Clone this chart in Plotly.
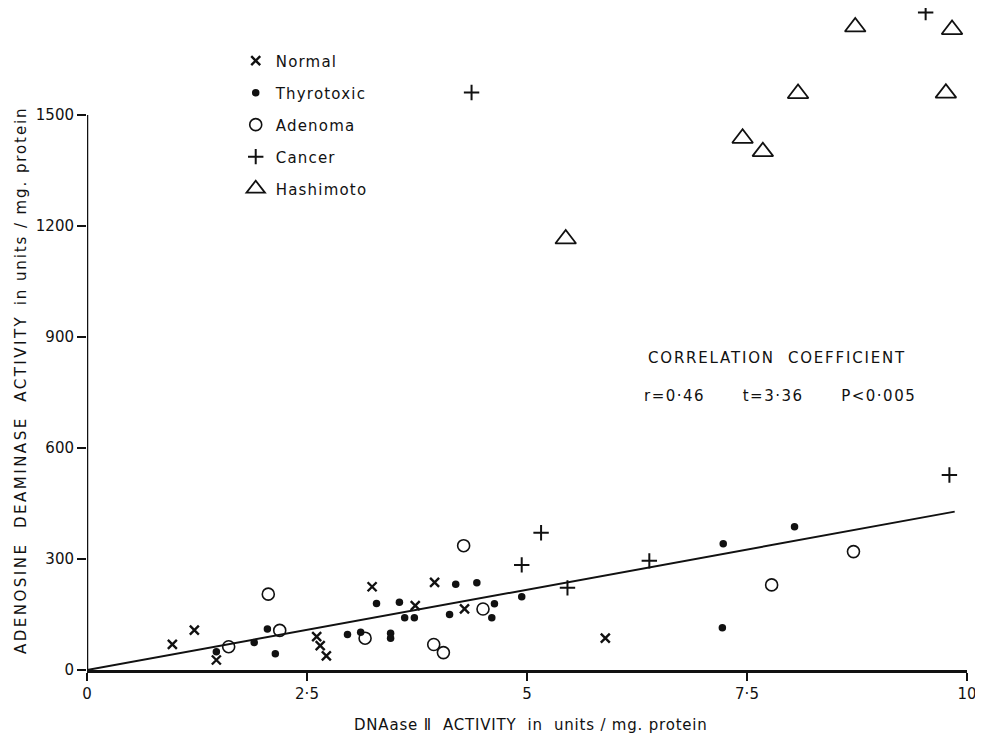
import plotly.graph_objects as go

# ---------------- data ----------------
normal_x = [0.97, 1.22, 1.47, 2.61, 2.65, 2.72, 3.24, 3.73, 3.95, 4.29, 5.89]
normal_y = [69, 108, 27, 90, 66, 38, 225, 174, 237, 165, 86]

thyro_x = [1.47, 1.90, 2.05, 2.14, 2.96, 3.11, 3.29, 3.45, 3.45, 3.55, 3.61,
           3.72, 4.12, 4.19, 4.43, 4.60, 4.63, 4.94, 7.22, 7.23, 8.04]
thyro_y = [49, 74, 111, 44, 96, 102, 180, 99, 86, 183, 141,
           141, 150, 232, 236, 141, 179, 198, 114, 341, 387]

adenoma_x = [1.61, 2.06, 2.19, 3.16, 3.94, 4.05, 4.28, 4.50, 7.78, 8.71]
adenoma_y = [63, 205, 107, 86, 69, 47, 336, 165, 230, 320]

cancer_x = [4.37, 4.94, 5.16, 5.46, 6.39, 9.53, 9.80]
cancer_y = [1561, 284, 371, 222, 295, 1777, 527]

hashi_x = [5.44, 7.45, 7.68, 8.08, 8.73, 9.76, 9.83]
hashi_y = [1165, 1437, 1401, 1558, 1738, 1559, 1731]

fit_x = [0, 9.86]
fit_y = [0, 428]

x_tickvals = [0, 2.5, 5, 7.5, 10]
x_ticktext = ["0", "2·5", "5", "7·5", "10"]
y_tickvals = [0, 300, 600, 900, 1200, 1500]
y_ticktext = ["0", "300", "600", "900", "1200", "1500"]

FONT = "DejaVu Sans"
BLACK = "#111111"

# plot area (figure coords): left 79, top 0, width 880, height 662
PW, PH = 880, 662


def px(xpage):
    return (xpage - 87) / PW


def py(ypage):
    return (670 - ypage) / PH


def spaced(s, ls):
    return "<span style='letter-spacing:%spx'>%s</span>" % (ls, s)


fig = go.Figure()

fig.add_trace(go.Scatter(
    x=fit_x, y=fit_y, mode="lines", line=dict(color=BLACK, width=2),
    showlegend=False, hoverinfo="skip"))

common = dict(mode="markers", cliponaxis=False)
fig.add_trace(go.Scatter(
    x=normal_x, y=normal_y, name=spaced("Normal", 1.2), legendgroup="a", **common,
    marker=dict(symbol="x-thin-open", size=9, color=BLACK,
                line=dict(color=BLACK, width=2.4))))
fig.add_trace(go.Scatter(
    x=thyro_x, y=thyro_y, name=spaced("Thyrotoxic", 1.2), legendgroup="b", **common,
    marker=dict(symbol="circle", size=7.5, color=BLACK, line=dict(width=0))))
fig.add_trace(go.Scatter(
    x=adenoma_x, y=adenoma_y, name=spaced("Adenoma", 1.2), legendgroup="c", **common,
    marker=dict(symbol="circle-open", size=12, color=BLACK,
                line=dict(color=BLACK, width=1.6))))
fig.add_trace(go.Scatter(
    x=cancer_x, y=cancer_y, name=spaced("Cancer", 1.2), legendgroup="d", **common,
    marker=dict(symbol="cross-thin-open", size=11, color=BLACK,
                line=dict(color=BLACK, width=2))))
fig.add_trace(go.Scatter(
    x=hashi_x, y=hashi_y, name=spaced("Hashimoto", 1.2), legendgroup="e", **common,
    marker=dict(symbol="triangle-up-open", size=18, color=BLACK,
                line=dict(color=BLACK, width=1.8))))

# y-axis line only spans 0..1500 as in the original
fig.add_shape(type="line", xref="x", yref="y", x0=0, x1=0, y0=0, y1=y_tickvals[-1],
              line=dict(color=BLACK, width=2.5))

fig.add_annotation(text=spaced("CORRELATION  COEFFICIENT", 1.8), xref="paper", yref="paper",
                   x=px(777), y=py(358), xanchor="center", yanchor="middle",
                   showarrow=False, font=dict(family=FONT, size=15, color=BLACK))
fig.add_annotation(text=spaced("r=0·46      t=3·36      P<0·005", 1.5),
                   xref="paper", yref="paper",
                   x=px(780), y=py(396), xanchor="center", yanchor="middle",
                   showarrow=False, font=dict(family=FONT, size=15, color=BLACK))

fig.add_annotation(text=spaced("DNAase Ⅱ  ACTIVITY  in  units / mg. protein", 0.8),
                   xref="paper", yref="paper", x=px(531), y=py(725),
                   xanchor="center", yanchor="middle",
                   showarrow=False, font=dict(family=FONT, size=15, color=BLACK))
fig.add_annotation(text=spaced("ADENOSINE  DEAMINASE  ACTIVITY", 2.5) + "  "
                   + spaced("in units / mg. protein", 1.9),
                   xref="paper", yref="paper", x=px(21), y=py(380),
                   xanchor="center", yanchor="middle",
                   textangle=-90, showarrow=False,
                   font=dict(family=FONT, size=15, color=BLACK))

fig.update_layout(
    width=975, height=729,
    margin=dict(l=79, r=16, t=0, b=67, autoexpand=False),
    paper_bgcolor="white", plot_bgcolor="white",
    font=dict(family=FONT, size=15, color=BLACK),
    showlegend=True,
    legend=dict(x=0.169, y=0.945, xanchor="left", yanchor="top",
                bgcolor="rgba(0,0,0,0)", traceorder="grouped", tracegroupgap=9.5,
                font=dict(family=FONT, size=15, color=BLACK)),
    xaxis=dict(range=[0, 10], tickvals=x_tickvals, ticktext=x_ticktext,
               showline=True, linecolor=BLACK, linewidth=2.5, automargin=False,
               ticks="outside", ticklen=8, tickwidth=2, tickcolor=BLACK,
               showgrid=False, zeroline=False,
               tickfont=dict(family=FONT, size=15, color=BLACK)),
    yaxis=dict(range=[0, PH / 0.37], tickvals=y_tickvals, ticktext=y_ticktext,
               showline=False, ticks="outside", ticklen=9, tickwidth=2,
               tickcolor=BLACK, showgrid=False, zeroline=False, automargin=False,
               tickfont=dict(family=FONT, size=15, color=BLACK)),
)

fig.write_html("out.html")
